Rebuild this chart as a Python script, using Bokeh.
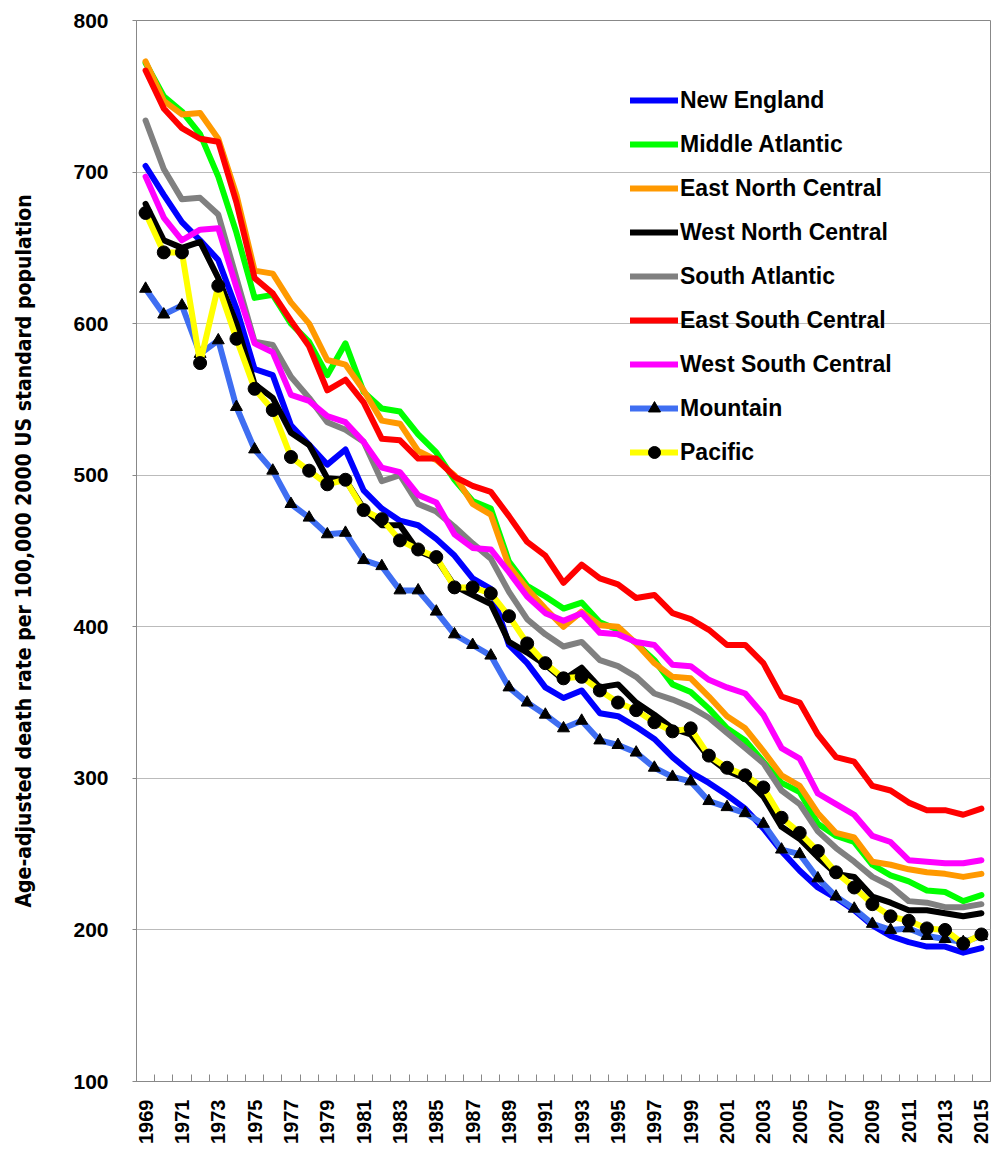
import math
from bokeh.plotting import figure
from bokeh.models import (ColumnDataSource, FixedTicker, Legend, LegendItem, Range1d)
from bokeh.embed import file_html
from bokeh.resources import INLINE

years = list(range(1969, 2016))

new_england = [704, 685, 667, 655, 642, 610, 570, 566, 533, 520, 507, 517, 490, 478, 470, 467,
               458, 447, 432, 425, 388, 376, 360, 353, 358, 343, 341, 334, 326, 314, 304, 297,
               289, 280, 267, 252, 239, 228, 221, 213, 203, 196, 192, 189, 189, 185, 188]
middle_atlantic = [772, 750, 740, 725, 697, 660, 617, 619, 600, 588, 566, 587, 555, 544, 542, 527,
                   515, 497, 483, 478, 443, 427, 420, 412, 416, 403, 398, 389, 378, 362, 357, 346,
                   333, 325, 311, 297, 291, 270, 262, 258, 243, 236, 232, 226, 225, 219, 223]
east_north_central = [773, 747, 738, 739, 722, 685, 635, 633, 614, 600, 576, 573, 556, 536, 534, 516,
                      510, 500, 481, 474, 440, 425, 412, 400, 410, 401, 400, 389, 376, 367, 366, 354,
                      341, 333, 318, 302, 295, 277, 264, 261, 245, 243, 240, 238, 237, 235, 237]
west_north_central = [679, 655, 650, 654, 630, 600, 560, 551, 528, 520, 498, 497, 478, 467, 467, 450,
                      445, 427, 421, 415, 390, 383, 375, 365, 373, 360, 362, 350, 342, 333, 329, 314,
                      305, 300, 288, 268, 260, 248, 237, 235, 222, 218, 213, 213, 211, 209, 211]
south_atlantic = [734, 702, 682, 683, 672, 630, 588, 586, 565, 551, 535, 530, 522, 496, 500, 481,
                  476, 466, 455, 445, 423, 405, 395, 387, 390, 378, 374, 367, 356, 352, 347, 340,
                  330, 320, 310, 292, 283, 265, 254, 245, 235, 229, 219, 218, 215, 215, 217]
east_south_central = [767, 742, 729, 722, 720, 680, 630, 620, 602, 585, 556, 563, 548, 524, 523, 511,
                      511, 499, 493, 489, 473, 456, 447, 429, 441, 432, 428, 419, 421, 409, 405, 398,
                      388, 388, 376, 354, 350, 329, 314, 311, 295, 292, 284, 279, 279, 276, 280]
west_south_central = [697, 670, 655, 662, 663, 624, 587, 581, 553, 549, 539, 535, 522, 505, 502, 487,
                      482, 461, 452, 451, 436, 420, 409, 404, 409, 396, 395, 390, 388, 375, 374, 365,
                      360, 356, 342, 320, 313, 290, 283, 276, 262, 258, 246, 245, 244, 244, 246]
mountain = [623, 606, 612, 580, 589, 545, 517, 503, 481, 472, 461, 462, 444, 440, 424, 424,
            410, 395, 388, 381, 360, 350, 342, 333, 338, 325, 322, 317, 307, 301, 298, 285,
            281, 277, 270, 253, 250, 234, 222, 214, 204, 200, 201, 196, 194, 192, 196]
pacific = [673, 647, 647, 574, 625, 590, 557, 543, 512, 503, 494, 497, 477, 471, 457, 451,
           446, 426, 426, 422, 407, 389, 376, 366, 367, 358, 350, 345, 337, 331, 333, 315,
           307, 302, 294, 274, 264, 252, 238, 228, 217, 209, 206, 201, 200, 191, 197]

series = [
    ("New England", new_england, "#0000FF", None),
    ("Middle Atlantic", middle_atlantic, "#00FF00", None),
    ("East North Central", east_north_central, "#FF9900", None),
    ("West North Central", west_north_central, "#000000", None),
    ("South Atlantic", south_atlantic, "#808080", None),
    ("East South Central", east_south_central, "#FF0000", None),
    ("West South Central", west_south_central, "#FF00FF", None),
    ("Mountain", mountain, "#3F6EF2", "triangle"),
    ("Pacific", pacific, "#FFFF00", "circle"),
]

y_ticks = [100, 200, 300, 400, 500, 600, 700, 800]
x_label_years = [y for y in years if y % 2 == 1]

p = figure(width=992, height=1155, output_backend="svg", toolbar_location=None,
           x_range=Range1d(years[0] - 0.5, years[-1] + 0.5), y_range=Range1d(100, 800),
           min_border_left=136, min_border_right=2, min_border_top=20, min_border_bottom=74)
p.outline_line_color = "#888888"
p.outline_line_width = 1
p.background_fill_color = "white"
p.border_fill_color = "white"

items = []
for name, vals, color, marker in series:
    src = ColumnDataSource(dict(x=years, y=vals))
    r = p.line("x", "y", source=src, line_color=color, line_width=6,
               line_join="round", line_cap="round")
    rs = [r]
    if marker == "triangle":
        m = p.scatter("x", "y", source=src, marker="triangle", size=12,
                      fill_color="black", line_color="black")
        rs.append(m)
    elif marker == "circle":
        m = p.scatter("x", "y", source=src, marker="circle", size=13,
                      fill_color="black", line_color="black")
        rs.append(m)
    items.append(LegendItem(label=name, renderers=rs))

legend = Legend(items=items, location=(494, 614), padding=0, margin=0,
                glyph_width=48, glyph_height=30, label_height=30, spacing=14,
                label_standoff=2, border_line_color=None, background_fill_alpha=0,
                label_text_font="Liberation Sans", label_text_font_style="bold",
                label_text_font_size="23px", label_text_color="black")
p.add_layout(legend)

# axes
p.yaxis.ticker = FixedTicker(ticks=y_ticks)
p.yaxis.major_label_text_font = "Liberation Sans"
p.yaxis.major_label_text_font_style = "bold"
p.yaxis.major_label_text_font_size = "21px"
p.yaxis.major_label_text_color = "black"
p.yaxis.major_tick_out = 4
p.yaxis.major_tick_in = 0
p.yaxis.minor_tick_line_color = None
p.yaxis.major_label_standoff = 24
p.yaxis.axis_line_color = "#888888"
p.yaxis.major_tick_line_color = "#888888"
p.yaxis.axis_label = "Age-adjusted death rate per 100,000 2000 US standard population"
p.yaxis.axis_label_text_font = "DejaVu Sans Condensed"
p.yaxis.axis_label_text_font_style = "bold"
p.yaxis.axis_label_text_font_size = "21px"
p.yaxis.axis_label_text_color = "black"
p.yaxis.axis_label_standoff = 34

p.xaxis.ticker = FixedTicker(ticks=x_label_years,
                             minor_ticks=[y - 0.5 for y in years] + [years[-1] + 0.5])
p.xaxis.major_label_orientation = math.pi / 2
p.xaxis.major_label_text_font = "Liberation Sans"
p.xaxis.major_label_text_font_style = "bold"
p.xaxis.major_label_text_font_size = "20px"
p.xaxis.major_label_text_color = "black"
p.xaxis.major_tick_line_color = None
p.xaxis.minor_tick_in = 7
p.xaxis.minor_tick_out = 0
p.xaxis.minor_tick_line_color = "#888888"
p.xaxis.axis_line_color = "#888888"
p.xaxis.major_label_standoff = 12

p.xgrid.grid_line_color = None
p.ygrid.ticker = FixedTicker(ticks=y_ticks)
p.ygrid.grid_line_color = "#BBBBBB"
p.ygrid.grid_line_width = 1

open("out.html", "w").write(file_html(p, INLINE))
